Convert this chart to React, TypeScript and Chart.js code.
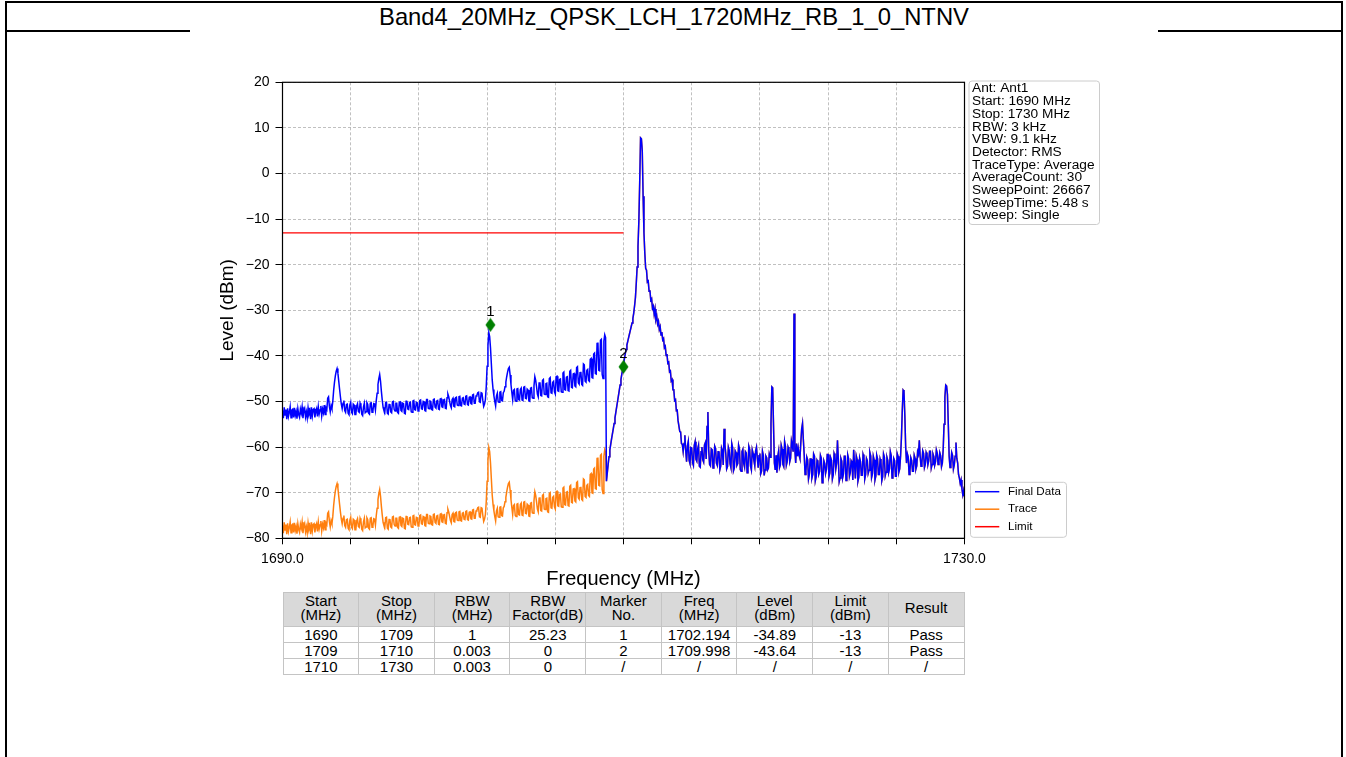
import { useEffect, useRef } from 'react';
import { Chart, registerables } from 'chart.js';

Chart.register(...registerables);

const TITLE = 'Band4_20MHz_QPSK_LCH_1720MHz_RB_1_0_NTNV';

// Sweep grid (MHz)
const SWEEP_START = 1690;
const SWEEP_STEP = 0.05;

// Raw trace levels (dBm), one per 0.05 MHz from 1690.00 to 1730.00 (20 per MHz row)
const traceLevels = [
  -77.2, -78.9, -76.5, -78.2, -77.0, -79.1, -76.7, -78.5, -77.6, -76.4, -78.8, -77.1, -76.9, -78.7, -76.6, -78.3, -77.4, -79.0, -76.8, -78.1,
  -78.7, -76.9, -77.8, -76.4, -78.9, -77.2, -76.7, -78.6, -77.5, -78.8, -76.6, -78.0, -77.3, -79.1, -76.5, -78.4, -77.0, -76.8, -78.7, -77.4,
  -76.8, -78.5, -76.4, -78.0, -77.1, -76.2, -78.4, -76.9, -77.7, -76.0, -78.1, -76.6, -77.0, -74.5, -74.2, -76.3, -77.5, -76.1, -76.8, -75.2,
  -72.8, -71.0, -69.6, -68.6, -68.0, -69.0, -70.8, -72.6, -74.3, -75.8, -76.8, -75.6, -75.0, -77.2, -77.6, -75.9, -75.8, -77.8, -78.1, -76.0,
  -75.4, -77.6, -77.9, -75.8, -76.0, -78.1, -78.1, -76.2, -75.7, -77.4, -77.6, -75.6, -76.2, -78.0, -78.3, -76.4, -75.6, -77.7, -77.5, -75.5,
  -75.9, -77.8, -78.0, -75.6, -75.5, -77.6, -77.4, -75.7, -75.8, -77.1, -75.0, -73.4, -71.5, -70.2, -69.3, -70.8, -73.0, -74.9, -76.5, -77.2,
  -77.6, -75.5, -75.4, -77.8, -78.0, -75.9, -75.8, -77.5, -77.7, -75.3, -75.2, -77.0, -77.3, -75.6, -75.6, -77.6, -77.8, -75.4, -75.3, -77.2,
  -77.4, -75.6, -75.7, -77.8, -77.9, -75.2, -75.1, -76.9, -77.0, -75.5, -75.4, -77.5, -77.6, -75.1, -75.0, -77.0, -77.1, -75.4, -75.5, -77.3,
  -77.2, -75.0, -74.9, -76.8, -76.9, -75.2, -75.3, -77.2, -77.3, -74.8, -74.8, -76.7, -76.8, -75.1, -75.2, -77.0, -77.1, -74.8, -74.7, -76.5,
  -76.7, -75.1, -75.0, -76.9, -77.0, -74.7, -74.6, -76.4, -76.5, -74.9, -74.8, -76.7, -76.8, -74.4, -73.6, -74.2, -75.2, -76.1, -76.6, -74.8,
  -74.5, -76.3, -76.4, -74.4, -74.3, -76.0, -76.1, -74.2, -74.1, -76.1, -76.2, -74.5, -74.4, -75.8, -75.9, -74.1, -74.0, -75.9, -76.0, -74.3,
  -74.2, -75.7, -75.8, -73.8, -73.7, -75.6, -75.6, -74.0, -73.9, -73.3, -73.2, -75.3, -75.4, -73.3, -73.4, -75.0, -76.3, -75.8, -74.8, -72.0,
  -67.5, -63.0, -60.1, -61.0, -63.5, -67.0, -70.5, -72.6, -74.0, -75.2, -76.2, -74.0, -73.4, -75.3, -75.4, -73.2, -73.1, -75.0, -75.1, -73.3,
  -73.0, -72.0, -71.0, -69.8, -68.8, -68.0, -67.7, -69.4, -71.5, -73.2, -74.8, -72.8, -72.6, -75.0, -75.2, -72.5, -72.4, -74.8, -74.9, -72.6,
  -72.3, -74.9, -75.0, -72.1, -72.0, -74.5, -74.6, -72.5, -72.7, -75.1, -75.2, -72.3, -72.2, -74.4, -74.5, -71.8, -69.8, -70.6, -72.0, -73.6,
  -74.2, -71.2, -71.0, -73.9, -74.0, -70.6, -70.4, -73.6, -73.7, -71.3, -71.2, -74.2, -74.3, -70.2, -70.0, -73.3, -73.4, -71.0, -70.8, -73.1,
  -73.6, -69.8, -69.7, -72.9, -73.0, -70.4, -70.3, -73.1, -73.2, -69.0, -68.8, -72.6, -72.7, -69.9, -69.8, -72.8, -72.9, -68.6, -68.4, -72.1,
  -72.2, -69.2, -69.1, -71.8, -72.0, -67.8, -67.6, -71.1, -71.4, -68.9, -68.7, -71.5, -71.7, -67.0, -67.2, -70.8, -71.0, -68.4, -68.2, -70.6,
  -70.8, -66.0, -65.8, -70.0, -70.1, -64.8, -64.6, -69.1, -69.2, -62.5, -62.3, -68.4, -68.5, -61.8, -61.6, -69.3, -70.2, -62.0, -60.6, -61.2,
  -67.5, -65.6, -63.8, -62.1, -60.6, -59.4, -58.2, -57.1, -56.0, -54.8, -53.6, -52.4, -51.2, -50.0, -48.8, -47.6, -46.4, -45.2, -44.0, -43.0,
  -41.9, -40.7, -39.6, -38.6, -37.6, -36.8, -36.0, -35.2, -34.4, -33.6, -32.8, -31.8, -30.6, -29.0, -27.2, -24.0, -20.5, -16.0, -10.5, -2.0,
  7.8, 7.6, 5.0, -5.0, -13.0, -17.5, -20.8, -21.2, -23.8, -23.6, -25.8, -25.6, -27.8, -27.5, -29.6, -29.1, -30.9, -29.7, -32.0, -31.3,
  -33.0, -32.4, -34.2, -33.6, -35.4, -34.8, -36.5, -36.2, -38.2, -37.9, -39.9, -39.6, -41.6, -41.4, -43.5, -43.3, -45.5, -45.2, -47.4, -47.4,
  -49.8, -49.6, -52.0, -51.9, -54.2, -54.2, -56.6, -56.7, -59.2, -59.4, -61.0, -59.2, -57.4, -60.8, -63.2, -59.8, -58.8, -62.9, -63.6, -60.1,
  -60.2, -63.4, -64.0, -59.6, -58.8, -62.7, -63.1, -60.4, -59.6, -64.2, -64.4, -61.0, -60.0, -62.8, -63.3, -59.5, -59.0, -62.6, -55.5, -52.3,
  -60.8, -63.8, -64.1, -60.4, -60.6, -64.6, -63.9, -59.8, -60.3, -63.5, -64.0, -61.0, -60.9, -65.0, -64.2, -60.2, -60.8, -63.9, -56.0, -59.5,
  -61.5, -64.8, -64.3, -60.0, -60.7, -63.7, -64.5, -59.2, -60.1, -65.2, -64.6, -60.8, -61.2, -64.0, -63.6, -59.6, -60.4, -64.9, -65.3, -61.0,
  -60.5, -63.6, -64.4, -61.0, -61.3, -65.6, -64.8, -59.8, -60.5, -64.2, -65.0, -60.6, -61.4, -63.0, -64.1, -60.8, -60.0, -62.5, -64.5, -61.9,
  -61.4, -65.8, -65.2, -60.9, -61.8, -66.2, -65.0, -62.0, -62.4, -65.0, -64.6, -61.5, -62.2, -55.0, -46.8, -47.0, -55.5, -63.5, -65.0, -61.8,
  -65.6, -62.0, -60.8, -64.5, -63.9, -59.6, -60.4, -63.8, -64.3, -58.8, -59.9, -64.0, -63.2, -60.0, -60.6, -63.2, -62.4, -58.6, -59.5, -61.0,
  -30.7, -60.5, -63.5, -59.2, -62.0, -60.3, -61.8, -62.5, -59.0, -56.0, -54.8, -58.5, -61.8, -66.0, -65.2, -62.2, -62.8, -67.0, -66.0, -62.6,
  -62.6, -66.8, -66.0, -61.5, -62.0, -67.4, -66.5, -62.9, -63.3, -66.0, -65.4, -61.8, -62.4, -67.8, -66.7, -63.0, -63.6, -65.8, -64.9, -61.6,
  -61.6, -66.5, -65.7, -62.3, -62.9, -67.0, -66.1, -61.4, -62.0, -64.8, -63.5, -58.5, -62.6, -67.6, -66.8, -62.5, -63.1, -66.8, -65.9, -62.0,
  -62.0, -67.3, -66.4, -61.7, -62.5, -66.4, -65.6, -63.0, -63.4, -67.2, -60.6, -63.8, -66.9, -61.9, -62.7, -67.5, -66.6, -62.4, -63.2, -66.2,
  -66.2, -61.6, -62.3, -67.0, -66.0, -62.5, -63.0, -65.8, -65.1, -61.2, -62.0, -66.7, -65.9, -62.0, -62.8, -67.2, -66.3, -61.8, -62.6, -66.0,
  -66.0, -62.6, -63.3, -67.4, -66.5, -61.5, -62.2, -66.3, -65.5, -62.2, -62.9, -65.6, -64.8, -61.0, -61.8, -66.8, -65.9, -62.5, -63.0, -66.4,
  -66.4, -61.4, -62.0, -65.5, -64.8, -62.0, -58.0, -52.0, -47.5, -47.8, -53.0, -60.0, -63.5, -61.5, -62.2, -66.0, -65.2, -62.3, -62.9, -65.3,
  -65.3, -61.8, -62.5, -64.8, -64.1, -61.0, -61.6, -58.5, -62.0, -64.2, -63.5, -60.8, -61.4, -64.5, -63.8, -61.2, -61.8, -63.9, -63.0, -60.9,
  -60.9, -64.6, -63.8, -61.5, -62.1, -64.0, -63.2, -60.6, -61.3, -63.8, -63.0, -61.2, -61.9, -64.3, -63.5, -60.5, -55.0, -49.0, -46.4, -46.6,
  -48.5, -55.0, -62.0, -64.5, -63.6, -61.2, -61.8, -64.8, -63.9, -62.0, -59.0, -62.5, -63.5, -66.0, -66.8, -68.0, -67.2, -69.2, -70.5, -69.5,
  -70.8,
];

// Limit line
const limitFreqs = [1690, 1709, 1710];
const limitLevels = [-13, -13, -13];

// Markers (as plotted)
const markerLabels = ['1', '2'];
const markerFreqs = [1702.194, 1709.998];
const markerLevels = [-33.2, -42.4];

// Axis tick labels
const xTickLabels = ['1690.0', '', '', '', '', '', '', '', '', '', '1730.0'];
const yTickLabels = ['\u221280', '\u221270', '\u221260', '\u221250', '\u221240', '\u221230', '\u221220', '\u221210', '0', '10', '20'];

// Settings box
const infoLines = [
  'Ant: Ant1',
  'Start: 1690 MHz',
  'Stop: 1730 MHz',
  'RBW: 3 kHz',
  'VBW: 9.1 kHz',
  'Detector: RMS',
  'TraceType: Average',
  'AverageCount: 30',
  'SweepPoint: 26667',
  'SweepTime: 5.48 s',
  'Sweep: Single',
];

// Result table
const tableHeaders = [
  ['Start', '(MHz)'],
  ['Stop', '(MHz)'],
  ['RBW', '(MHz)'],
  ['RBW', 'Factor(dB)'],
  ['Marker', 'No.'],
  ['Freq', '(MHz)'],
  ['Level', '(dBm)'],
  ['Limit', '(dBm)'],
  ['Result'],
];
const tableStart = ['1690', '1709', '1710'];
const tableStop = ['1709', '1710', '1730'];
const tableRbw = ['1', '0.003', '0.003'];
const tableFactor = ['25.23', '0', '0'];
const tableMarkerNo = ['1', '2', '/'];
const tableFreq = ['1702.194', '1709.998', '/'];
const tableLevel = ['-34.89', '-43.64', '/'];
const tableLimit = ['-13', '-13', '/'];
const tableResult = ['Pass', 'Pass', '/'];

const FONT = "'Liberation Sans', Arial, Helvetica, sans-serif";
const BLUE = '#0000ff';
const ORANGE = '#ff7f0e';
const RED = '#ff0000';
const GREEN = '#008000';

function factorAt(f: number): number {
  for (let s = 0; s < tableStart.length; s++) {
    const a = Number(tableStart[s]);
    const b = Number(tableStop[s]);
    const last = s === tableStart.length - 1;
    if (f >= a - 1e-9 && (f < b - 1e-9 || (last && f <= b + 1e-9))) return Number(tableFactor[s]);
  }
  return 0;
}

function makeDiamond(): HTMLCanvasElement {
  const c = document.createElement('canvas');
  c.width = 11;
  c.height = 15;
  const g = c.getContext('2d')!;
  g.fillStyle = GREEN;
  g.beginPath();
  g.moveTo(5.5, 0.5);
  g.lineTo(10.5, 7.5);
  g.lineTo(5.5, 14.5);
  g.lineTo(0.5, 7.5);
  g.closePath();
  g.fill();
  return c;
}

const framePlugin = {
  id: 'frameAndLabels',
  afterDatasetsDraw(chart: any) {
    const { ctx, chartArea: a } = chart;
    ctx.save();
    ctx.strokeStyle = '#000';
    ctx.lineWidth = 1.2;
    ctx.strokeRect(a.left, a.top, a.right - a.left, a.bottom - a.top);
    const idx = chart.data.datasets.findIndex((d: any) => d.label === 'Markers');
    if (idx >= 0) {
      const meta = chart.getDatasetMeta(idx);
      ctx.fillStyle = '#000';
      ctx.font = `15px ${FONT}`;
      ctx.textAlign = 'center';
      ctx.textBaseline = 'middle';
      meta.data.forEach((pt: any, i: number) => {
        ctx.fillText(markerLabels[i], pt.x, pt.y - 13);
      });
    }
    ctx.restore();
  },
  afterDraw(chart: any) {
    const { ctx, chartArea: a } = chart;
    ctx.save();
    const bx = a.right + 4.5;
    const by = a.top - 1.3;
    ctx.beginPath();
    ctx.roundRect(bx, by, 130.5, 143.5, 3);
    ctx.fillStyle = 'rgba(255,255,255,0.9)';
    ctx.fill();
    ctx.strokeStyle = '#cccccc';
    ctx.lineWidth = 1;
    ctx.stroke();
    ctx.fillStyle = '#000';
    ctx.font = `13.7px ${FONT}`;
    ctx.textAlign = 'left';
    ctx.textBaseline = 'middle';
    infoLines.forEach((t, i) => ctx.fillText(t, bx + 3, a.top + 6.4 + i * 12.7));
    const lx = a.right + 6;
    const ly = a.bottom - 56;
    ctx.beginPath();
    ctx.roundRect(lx, ly, 96, 55, 3);
    ctx.fillStyle = 'rgba(255,255,255,0.9)';
    ctx.fill();
    ctx.strokeStyle = '#cccccc';
    ctx.stroke();
    const items = chart.data.datasets.filter((d: any) => d.label !== 'Markers');
    ctx.font = `11.6px ${FONT}`;
    items.forEach((d: any, i: number) => {
      const y = a.bottom - 46.6 + i * 17.5;
      ctx.strokeStyle = d.borderColor;
      ctx.lineWidth = 1.5;
      ctx.beginPath();
      ctx.moveTo(a.right + 10.5, y);
      ctx.lineTo(a.right + 34.8, y);
      ctx.stroke();
      ctx.fillStyle = '#000';
      ctx.fillText(d.label, a.right + 43.5, y);
    });
    ctx.restore();
  },
};

function ResultTable() {
  const cols = [tableStart, tableStop, tableRbw, tableFactor, tableMarkerNo, tableFreq, tableLevel, tableLimit, tableResult];
  const cell: any = {
    border: '1px solid #c4c4c4',
    padding: 0,
    textAlign: 'center',
    fontSize: 15,
    lineHeight: '14px',
    color: '#000',
    overflow: 'hidden',
    whiteSpace: 'nowrap',
  };
  return (
    <table
      style={{
        position: 'absolute',
        left: 282.5,
        top: 592,
        width: 682,
        borderCollapse: 'collapse',
        tableLayout: 'fixed',
        fontFamily: FONT,
      }}
    >
      <tbody>
        <tr style={{ height: 34 }}>
          {tableHeaders.map((h, i) => (
            <td key={i} style={{ ...cell, background: '#d9d9d9', height: 33, paddingBottom: 4, boxSizing: 'border-box', verticalAlign: 'middle' }}>
              {h.map((line, j) => (
                <div key={j}>{line}</div>
              ))}
            </td>
          ))}
        </tr>
        {tableStart.map((_, r) => (
          <tr key={r} style={{ height: 16 }}>
            {cols.map((c, i) => (
              <td key={i} style={{ ...cell, height: 15 }}>
                {c[r]}
              </td>
            ))}
          </tr>
        ))}
      </tbody>
    </table>
  );
}

export default function App() {
  const ref = useRef<HTMLCanvasElement | null>(null);

  useEffect(() => {
    if (!ref.current) return;
    Chart.defaults.font.family = FONT;
    Chart.defaults.color = '#000';

    const freqs = traceLevels.map((_, i) => Math.round((SWEEP_START + i * SWEEP_STEP) * 100) / 100);
    const traceData = traceLevels.map((v, i) => ({ x: freqs[i], y: v }));
    const finalData = traceLevels.map((v, i) => ({ x: freqs[i], y: v + factorAt(freqs[i]) }));
    const limitData = limitFreqs.map((f, i) => ({ x: f, y: limitLevels[i] }));
    const markerData = markerFreqs.map((f, i) => ({ x: f, y: markerLevels[i] }));
    const diamond = makeDiamond();

    const chart = new Chart(ref.current, {
      type: 'line',
      data: {
        datasets: [
          { label: 'Final Data', data: finalData, borderColor: BLUE, backgroundColor: BLUE, borderWidth: 1.5, pointRadius: 0, order: 1 },
          { label: 'Trace', data: traceData, borderColor: ORANGE, backgroundColor: ORANGE, borderWidth: 1.5, pointRadius: 0, order: 2 },
          { label: 'Limit', data: limitData, borderColor: RED, backgroundColor: RED, borderWidth: 1.2, pointRadius: 0, order: 3 },
          {
            label: 'Markers',
            data: markerData,
            showLine: false,
            pointStyle: diamond as any,
            pointRadius: 6,
            borderColor: GREEN,
            backgroundColor: GREEN,
            order: 0,
          },
        ] as any,
      },
      options: {
        animation: false,
        responsive: false,
        maintainAspectRatio: false,
        devicePixelRatio: 1,
        layout: { padding: { left: 22.5, right: 193.5, top: 50.3, bottom: 0 } },
        plugins: { legend: { display: false }, tooltip: { enabled: false }, title: { display: false } },
        elements: { line: { tension: 0 } },
        scales: {
          x: {
            type: 'linear',
            min: 1690,
            max: 1730,
            afterFit: (s: any) => {
              s.height = 53.7;
            },
            ticks: {
              stepSize: 4,
              autoSkip: false,
              maxRotation: 0,
              padding: 6,
              color: '#000',
              font: { size: 14 },
              callback: (_v: any, i: number) => xTickLabels[i] ?? '',
            },
            grid: { color: '#b0b0b0', lineWidth: 0.8, tickLength: 6, tickColor: '#000', tickWidth: 1 },
            border: { display: true, color: '#000', width: 1, dash: [3, 2] },
            title: { display: true, text: 'Frequency (MHz)', color: '#000', font: { size: 20 }, padding: { top: 0, bottom: 1 } },
          },
          y: {
            type: 'linear',
            min: -80,
            max: 20,
            afterFit: (s: any) => {
              s.width = 70;
            },
            ticks: {
              stepSize: 10,
              padding: 6,
              color: '#000',
              font: { size: 14 },
              callback: (_v: any, i: number) => yTickLabels[i] ?? '',
            },
            grid: { color: '#b0b0b0', lineWidth: 0.8, tickLength: 7, tickColor: '#000', tickWidth: 1 },
            border: { display: true, color: '#000', width: 1, dash: [3, 2] },
            title: { display: true, text: 'Level (dBm)', color: '#000', font: { size: 19 }, padding: { top: 4, bottom: 0 } },
          },
        },
      } as any,
      plugins: [framePlugin as any],
    });
    return () => chart.destroy();
  }, []);

  return (
    <div
      style={{
        position: 'absolute',
        left: 0,
        top: 0,
        width: 1346,
        height: 757,
        background: '#fff',
        overflow: 'hidden',
        fontFamily: FONT,
      }}
    >
      <div
        style={{
          position: 'absolute',
          left: 5,
          top: 1,
          width: 1338,
          height: 800,
          borderLeft: '2px solid #000',
          borderTop: '2px solid #000',
          borderRight: '2px solid #000',
          boxSizing: 'border-box',
        }}
      />
      <div
        style={{
          position: 'absolute',
          left: 7,
          top: 3,
          width: 1334,
          height: 27,
          lineHeight: '27px',
          textAlign: 'center',
          fontSize: 23.8,
          color: '#000',
        }}
      >
        {TITLE}
      </div>
      <div style={{ position: 'absolute', left: 7, top: 30, width: 183, height: 2, background: '#000' }} />
      <div style={{ position: 'absolute', left: 1158, top: 30, width: 183, height: 2, background: '#000' }} />
      <canvas
        ref={ref}
        width={968}
        height={560}
        style={{ position: 'absolute', left: 190, top: 32, width: 968, height: 560 }}
      />
      <ResultTable />
    </div>
  );
}
